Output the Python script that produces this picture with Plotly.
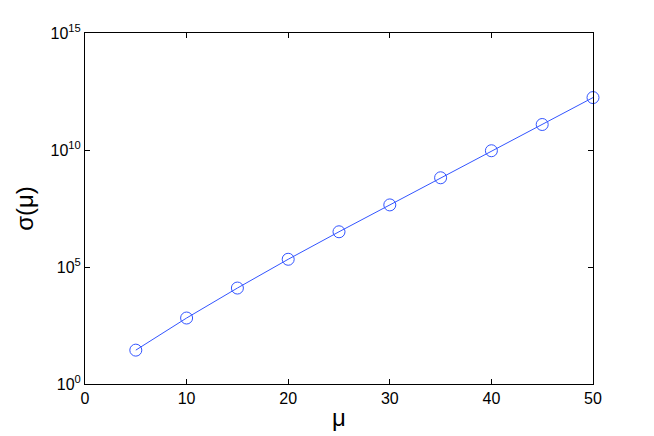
import plotly.graph_objects as go

mu = [5, 10, 15, 20, 25, 30, 35, 40, 45, 50]
sigma = [28, 660, 1.26e4, 2.14e5, 3.2e6, 4.5e7, 6.5e8, 9.3e9, 1.23e11, 1.74e12]

y_ticks = [1, 1e5, 1e10, 1e15]
y_labels = ["10<sup>0</sup>", "10<sup>5</sup>", "10<sup>10</sup>", "10<sup>15</sup>"]
x_ticks = [0, 10, 20, 30, 40, 50]

fig = go.Figure()
fig.add_trace(go.Scatter(
    x=mu, y=sigma, mode="lines+markers",
    line=dict(color="#3355ff", width=1),
    marker=dict(symbol="circle-open", size=12, color="#3355ff", line=dict(width=1)),
    cliponaxis=False,
))

axis_common = dict(
    showline=True, linecolor="black", linewidth=1, mirror="ticks",
    ticks="inside", ticklen=5, tickcolor="black",
    showgrid=False, zeroline=False, automargin=False,
    tickfont=dict(family="Liberation Sans, Arial", size=16, color="black"),
)

fig.update_xaxes(range=[0, 50], tickvals=x_ticks,
                 title=dict(text="μ", font=dict(size=24, color="black"), standoff=2),
                 **axis_common)
fig.update_yaxes(type="log", range=[0, 15], tickvals=y_ticks, ticktext=y_labels,
                 title=dict(text="σ(μ)", font=dict(size=24, color="black"), standoff=10),
                 **axis_common)

# page body has an 8px margin, so the figure is a bit smaller
fig.update_layout(
    width=646, height=428,
    margin=dict(l=77, r=61, t=25, b=52),
    plot_bgcolor="white", paper_bgcolor="white",
    showlegend=False,
    font=dict(family="Liberation Sans, Arial", color="black"),
)

fig.write_html("out.html")
